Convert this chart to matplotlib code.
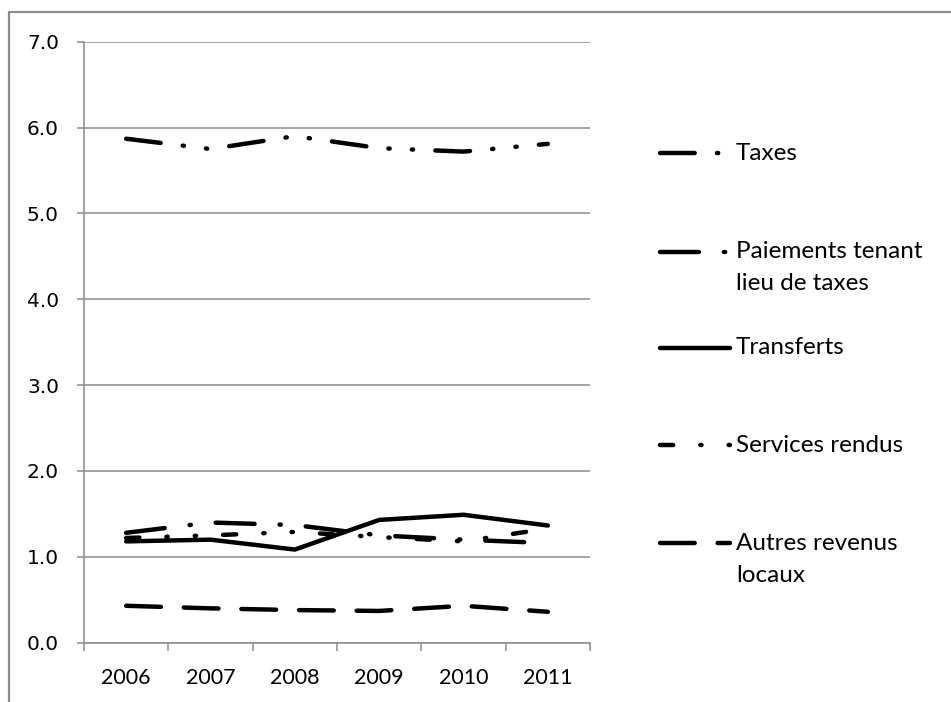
""" revenue sources by year, line chart """

import matplotlib
matplotlib.use("Agg")
import matplotlib.pyplot as plt
from matplotlib.lines import Line2D

# data
years = ["2006", "2007", "2008", "2009", "2010", "2011"]
taxes = [5.87, 5.75, 5.90, 5.76, 5.72, 5.81]
paiements = [1.28, 1.40, 1.37, 1.25, 1.20, 1.16]
transferts = [1.18, 1.20, 1.085, 1.43, 1.49, 1.365]
services = [1.22, 1.25, 1.29, 1.23, 1.18, 1.33]
autres = [0.43, 0.40, 0.38, 0.37, 0.43, 0.36]

labels = ["Taxes", "Paiements tenant\nlieu de taxes", "Transferts",
          "Services rendus", "Autres revenus\nlocaux"]

plt.rcParams["lines.scale_dashes"] = False

W, H = 951, 702
fig = plt.figure(figsize=(W / 100, H / 100), dpi=100)

gray = "#8c8c8c"
txt_font = "Lato"
lw = 3.2
dot = 0.9

# dash patterns in points (on, off, ...)
styles = [
    (0, (25.0, 16.0, dot, 16.0, dot, 16.0)),     # long dash dot dot
    (0, (28.0, 18.0, dot, 18.0)),                # long dash dot
    "-",
    (0, (9.5, 19.5, dot, 19.5, dot, 19.5)),      # dash dot dot
    (0, (25.0, 16.5)),                           # dash
]
series = [taxes, paiements, transferts, services, autres]

# plot area in pixels
left, right, top, bottom = 84, 590, 41.7, 642.7
ax = fig.add_axes([left / W, 1 - bottom / H, (right - left) / W, (bottom - top) / H])

x = list(range(len(years)))
for vals, ls in zip(series, styles):
    ax.plot(x, vals, color="black", lw=lw, linestyle=ls,
            dash_capstyle="round", solid_capstyle="round", solid_joinstyle="miter")

ax.set_xlim(-0.5, len(years) - 0.5)
ax.set_ylim(0, 7)
ax.set_yticks(range(0, 8))
ax.set_yticklabels([f"{v:.1f}" for v in range(0, 8)], fontfamily="DejaVu Sans", fontsize=14.5)
ax.yaxis.grid(True, color=gray, lw=1.1)
ax.set_axisbelow(True)

ax.set_xticks(x)
ax.set_xticklabels(years, fontfamily=txt_font, fontsize=15.5)
ax.set_xticks([i - 0.5 for i in range(len(years) + 1)], minor=True)
ax.tick_params(axis="x", which="major", length=0, pad=18)
ax.tick_params(axis="x", which="minor", length=5.8, width=1.1, color=gray, direction="out")
ax.tick_params(axis="y", length=5, width=1.1, color=gray, direction="out", pad=13)

for s in ["top", "right"]:
    ax.spines[s].set_visible(False)
for s in ["left", "bottom"]:
    ax.spines[s].set_color(gray)
    ax.spines[s].set_linewidth(1.1)

# overlay in pixel coords for the legend and outer frame
ov = fig.add_axes([0, 0, 1, 1], facecolor="none")
ov.set_xlim(0, W)
ov.set_ylim(H, 0)
ov.axis("off")

ov.add_line(Line2D([9, 9, W], [H, 12, 12], color=gray, lw=1.6))

leg_y = [153, 252, 348, 445, 543]
for ly, ls, lab in zip(leg_y, styles, labels):
    ov.add_line(Line2D([660, 730], [ly, ly], color="black", lw=lw, linestyle=ls,
                       dash_capstyle="round", solid_capstyle="round"))
    for k, line in enumerate(lab.split("\n")):
        ov.text(736, ly + 32 * k, line, fontfamily=txt_font, fontsize=17.5,
                va="center", ha="left")

fig.savefig("out.png", dpi=100)
